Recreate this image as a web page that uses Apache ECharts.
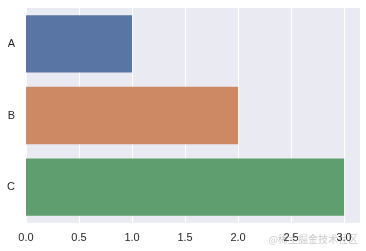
<!DOCTYPE html>
<html>
<head>
<meta charset="utf-8">
<script src="https://cdn.jsdelivr.net/npm/echarts@6/dist/echarts.min.js"></script>
<style>html,body{margin:0;padding:0;background:#fff;}#c{width:366px;height:251px;}</style>
</head>
<body>
<div id="c"></div>
<script>
const categories = ['A', 'B', 'C'];
const values = [1, 2, 3];
const barColors = ['#5975a4', '#cc8963', '#5f9e6e'];
const xTicks = [0, 0.5, 1, 1.5, 2, 2.5, 3];

const chart = echarts.init(document.getElementById('c'), null, {renderer: 'canvas'});
chart.setOption({
  animation: false,
  backgroundColor: '#ffffff',
  grid: {left: 26, top: 8, right: 6, bottom: 28, show: true, backgroundColor: '#eaeaf2', borderWidth: 0},
  xAxis: {
    type: 'value', min: 0, max: 3.15, interval: 0.5,
    axisLine: {show: false}, axisTick: {show: false},
    splitLine: {show: true, lineStyle: {color: '#ffffff', width: 1}},
    axisLabel: {
      color: '#262626', fontSize: 11, fontFamily: 'Liberation Sans', margin: 9,
      showMaxLabel: false,
      formatter: v => xTicks.indexOf(v) >= 0 ? v.toFixed(1) : ''
    }
  },
  yAxis: {
    type: 'category', data: categories, inverse: true,
    axisLine: {show: false}, axisTick: {show: false},
    splitLine: {show: false},
    axisLabel: {color: '#262626', fontSize: 11, fontFamily: 'Liberation Sans', margin: 11}
  },
  series: [{
    type: 'bar', barCategoryGap: '20%',
    data: values.map((v, i) => ({value: v, itemStyle: {color: barColors[i]}}))
  }],
  graphic: [{
    type: 'text', right: 8, bottom: 7,
    style: {text: '@稀土掘金技术社区', fill: 'rgba(150,150,160,0.5)', fontSize: 10, fontFamily: 'Noto Sans CJK SC'}
  }]
});
</script>
</body>
</html>
